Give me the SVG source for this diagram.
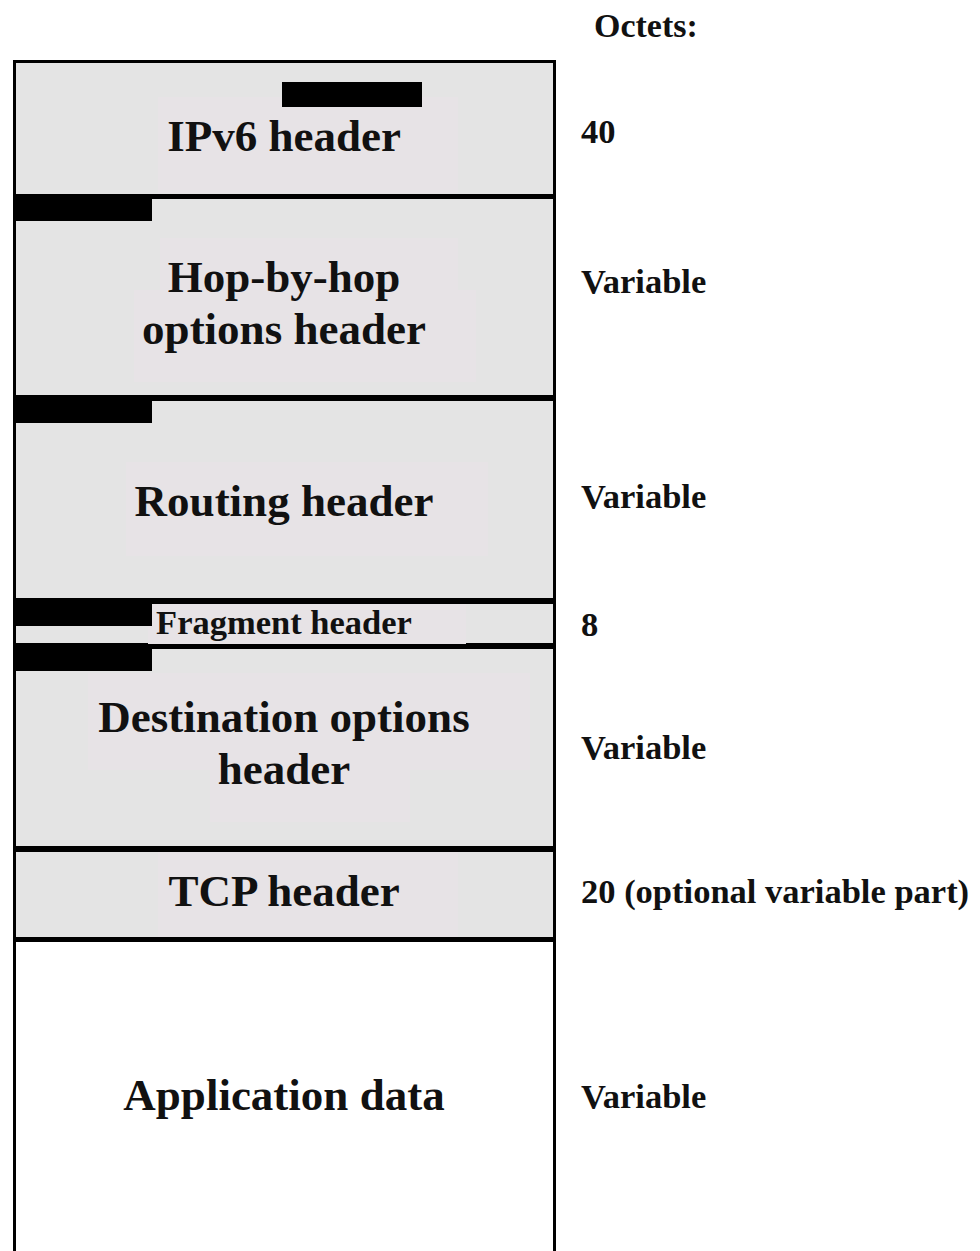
<svg xmlns="http://www.w3.org/2000/svg" width="980" height="1251" viewBox="0 0 980 1251">
<style>
.box{fill:#e4e4e4;stroke:#000;stroke-width:3}
.white{fill:#fff;stroke:#000;stroke-width:3}
.bar{fill:#000}
.tbg{fill:#e7e3e6}
.lbl{font-family:"Liberation Serif",serif;font-weight:bold;font-size:45px;fill:#111;text-anchor:middle}
.sm{font-family:"Liberation Serif",serif;font-weight:bold;font-size:34.5px;fill:#111}
</style>
<rect width="980" height="1251" fill="#fff"/>
<g id="ipv6">
<rect class="box" x="14.5" y="61.5" width="540" height="134"/>
<rect class="tbg" x="158" y="97" width="300" height="96"/>
<rect class="bar" x="282" y="82" width="140" height="25"/>
<text class="lbl" x="284" y="151">IPv6 header</text>
</g>
<g id="hop">
<rect class="box" x="14.5" y="197.5" width="540" height="199"/>
<rect class="tbg" x="160" y="238" width="298" height="54"/>
<rect class="tbg" x="134" y="290" width="342" height="92"/>
<rect class="bar" x="14" y="197" width="138" height="24"/>
<text class="lbl" x="284" y="292">Hop-by-hop</text>
<text class="lbl" x="284" y="344">options header</text>
</g>
<g id="routing">
<rect class="box" x="14.5" y="399.5" width="540" height="200"/>
<rect class="tbg" x="126" y="462" width="362" height="94"/>
<rect class="bar" x="14" y="399" width="138" height="24"/>
<text class="lbl" x="284" y="516">Routing header</text>
</g>
<g id="fragment">
<rect class="box" x="14.5" y="602.5" width="540" height="42"/>
<rect class="tbg" x="148" y="604" width="318" height="40"/>
<rect class="bar" x="14" y="602" width="138" height="24"/>
<text class="sm" x="284" y="634" text-anchor="middle" style="font-size:34.5px">Fragment header</text>
</g>
<g id="destination">
<rect class="box" x="14.5" y="647.5" width="540" height="200"/>
<rect class="tbg" x="88" y="673" width="442" height="97"/>
<rect class="tbg" x="210" y="770" width="200" height="52"/>
<rect class="bar" x="14" y="647" width="138" height="24"/>
<text class="lbl" x="284" y="732">Destination options</text>
<text class="lbl" x="284" y="784">header</text>
</g>
<g id="tcp">
<rect class="box" x="14.5" y="850.5" width="540" height="88"/>
<rect class="tbg" x="158" y="852" width="300" height="85"/>
<text class="lbl" x="284" y="906">TCP header</text>
</g>
<g id="app">
<rect class="white" x="14.5" y="940.5" width="540" height="320"/>
<text class="lbl" x="284" y="1110">Application data</text>
</g>
<g id="octets">
<text class="sm" x="594" y="37" style="font-size:34px">Octets:</text>
<text class="sm" x="581" y="143">40</text>
<text class="sm" x="581" y="293">Variable</text>
<text class="sm" x="581" y="508">Variable</text>
<text class="sm" x="581" y="636">8</text>
<text class="sm" x="581" y="759">Variable</text>
<text class="sm" x="581" y="903">20 (optional variable part)</text>
<text class="sm" x="581" y="1108">Variable</text>
</g>
<g id="connectors"></g>
</svg>
